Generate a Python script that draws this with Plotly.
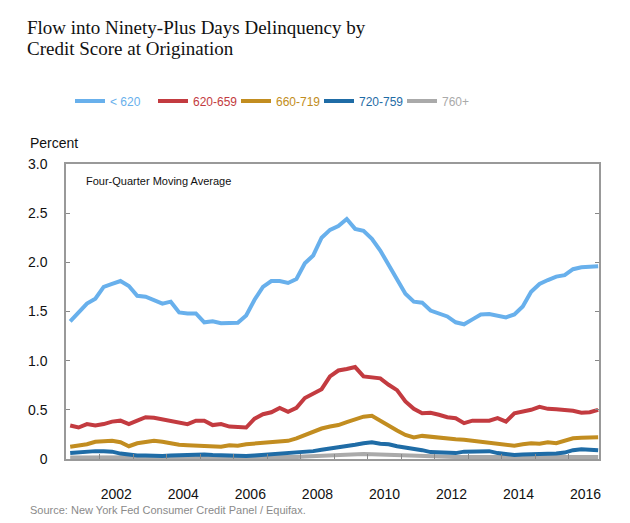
import plotly.graph_objects as go

# Quarterly observations, x in decimal years
start_year = 2001.125
n_points = 64
x_years = [start_year + 0.25 * k for k in range(n_points)]

series_names = ["< 620", "620-659", "660-719", "720-759", "760+"]
series_colors = ["#68b0ec", "#c33b40", "#c28d20", "#1f6ca6", "#aaaaaa"]

score_lt620 = [1.40, 1.49, 1.58, 1.63, 1.75, 1.78, 1.81, 1.76, 1.66, 1.65,
               1.62, 1.58, 1.60, 1.49, 1.48, 1.48, 1.39, 1.40, 1.38, 1.385,
               1.385, 1.46, 1.62, 1.75, 1.81, 1.81, 1.79, 1.83, 1.99, 2.07,
               2.25, 2.33, 2.37, 2.44, 2.34, 2.32, 2.24, 2.12, 1.97, 1.82,
               1.68, 1.60, 1.59, 1.51, 1.48, 1.45, 1.39, 1.37, 1.42, 1.47,
               1.475, 1.46, 1.44, 1.47, 1.55, 1.70, 1.78, 1.82, 1.855, 1.87,
               1.93, 1.95, 1.955, 1.96]
score_620_659 = [0.34, 0.32, 0.355, 0.34, 0.355, 0.38, 0.39, 0.355, 0.39, 0.425,
                 0.42, 0.405, 0.39, 0.38, 0.355, 0.39, 0.39, 0.345, 0.355, 0.33,
                 0.32, 0.32, 0.41, 0.455, 0.475, 0.52, 0.48, 0.52, 0.62, 0.67,
                 0.71, 0.84, 0.90, 0.915, 0.935, 0.84, 0.835, 0.82, 0.755, 0.70,
                 0.585, 0.51, 0.466, 0.47, 0.45, 0.425, 0.415, 0.365, 0.39, 0.39,
                 0.39, 0.415, 0.38, 0.465, 0.48, 0.50, 0.53, 0.51, 0.505, 0.50,
                 0.49, 0.47, 0.475, 0.50]
score_660_719 = [0.125, 0.135, 0.15, 0.175, 0.185, 0.185, 0.17, 0.13, 0.16, 0.175,
                 0.185, 0.175, 0.155, 0.145, 0.14, 0.135, 0.13, 0.125, 0.125, 0.14,
                 0.135, 0.15, 0.155, 0.165, 0.17, 0.175, 0.185, 0.21, 0.245, 0.27,
                 0.31, 0.33, 0.345, 0.375, 0.40, 0.43, 0.44, 0.39, 0.33, 0.29,
                 0.245, 0.22, 0.235, 0.225, 0.22, 0.215, 0.20, 0.195, 0.185, 0.18,
                 0.17, 0.15, 0.145, 0.135, 0.15, 0.16, 0.155, 0.17, 0.16, 0.185,
                 0.21, 0.215, 0.22, 0.22]
score_720_759 = [0.06, 0.07, 0.08, 0.08, 0.08, 0.075, 0.055, 0.04, 0.035, 0.035,
                 0.03, 0.03, 0.035, 0.04, 0.04, 0.045, 0.045, 0.04, 0.035, 0.03,
                 0.03, 0.03, 0.035, 0.04, 0.045, 0.05, 0.055, 0.06, 0.07, 0.08,
                 0.095, 0.105, 0.12, 0.135, 0.145, 0.16, 0.17, 0.155, 0.15, 0.13,
                 0.12, 0.11, 0.09, 0.07, 0.065, 0.07, 0.06, 0.075, 0.08, 0.075,
                 0.08, 0.06, 0.05, 0.04, 0.045, 0.045, 0.045, 0.05, 0.055, 0.065,
                 0.09, 0.10, 0.095, 0.09]
score_760_plus = [0.015, 0.015, 0.018, 0.018, 0.018, 0.015, 0.012, 0.01, 0.01, 0.01,
                  0.01, 0.01, 0.01, 0.012, 0.012, 0.012, 0.012, 0.01, 0.01, 0.01,
                  0.01, 0.01, 0.012, 0.012, 0.015, 0.015, 0.018, 0.02, 0.025, 0.03,
                  0.035, 0.04, 0.045, 0.048, 0.05, 0.05, 0.048, 0.045, 0.04, 0.035,
                  0.03, 0.028, 0.025, 0.022, 0.02, 0.02, 0.02, 0.02, 0.02, 0.02,
                  0.018, 0.015, 0.015, 0.012, 0.012, 0.012, 0.012, 0.015, 0.015, 0.018,
                  0.02, 0.022, 0.022, 0.02]

all_series = [score_lt620, score_620_659, score_660_719, score_720_759, score_760_plus]

tick_years = list(range(2002, 2017))
label_years = [2002, 2004, 2006, 2008, 2010, 2012, 2014, 2016]
y_ticks = [0, 0.5, 1.0, 1.5, 2.0, 2.5, 3.0]
y_ticktext = ["0", "0.5", "1.0", "1.5", "2.0", "2.5", "3.0"]

title_lines = ["Flow into Ninety-Plus Days Delinquency by", "Credit Score at Origination"]

fig = go.Figure()

# draw the light-gray series first so others sit on top, but keep legend order
draw_order = [4, 3, 2, 1, 0]
for i in draw_order:
    fig.add_trace(go.Scatter(
        x=x_years, y=all_series[i], mode="lines",
        name='<span style="color:%s">%s</span>' % (series_colors[i], series_names[i].replace("<", "&lt;")),
        line=dict(color=series_colors[i], width=4),
        legendrank=i + 1,
        hoverinfo="skip",
    ))

# invisible trace for the label axis
fig.add_trace(go.Scatter(x=[2001.0, 2016.9], y=[None, None], xaxis="x2",
                         showlegend=False, hoverinfo="skip", mode="lines"))

sans = "Liberation Sans, Arial, sans-serif"
axis_font = dict(family=sans, size=14, color="#111111")
title_font = dict(family="Liberation Serif, Georgia, serif", size=19, color="#111111")

# plot area: x 66..599, y 164..459 (px)
def py(p):
    return (459 - p) / 295

def px(p):
    return (p - 66) / 533

fig.update_layout(
    width=630, height=523,
    margin=dict(l=66, r=31, t=164, b=64),
    paper_bgcolor="white", plot_bgcolor="white",
    showlegend=True,
    legend=dict(
        orientation="h", x=px(70), xanchor="left", y=py(101), yanchor="middle",
        font=dict(family=sans, size=12),
        itemwidth=30, entrywidth=38, entrywidthmode="pixels",
        tracegroupgap=0, bgcolor="rgba(0,0,0,0)",
        traceorder="normal",
    ),
    xaxis=dict(
        range=[2001.0, 2016.9],
        tickmode="array", tickvals=tick_years, ticktext=["" for _ in tick_years],
        ticks="inside", ticklen=5, tickwidth=1, tickcolor="#888888",
        showline=True, linecolor="#999999", linewidth=1.5, mirror=True,
        showgrid=False, zeroline=False,
    ),
    xaxis2=dict(
        range=[2001.0, 2016.9], overlaying="x", anchor="y", side="bottom",
        tickmode="array", tickvals=[y + 0.5 for y in label_years],
        ticktext=[str(y) for y in label_years],
        ticks="", showline=False, showgrid=False, zeroline=False,
        tickfont=axis_font, ticklabelstandoff=25,
    ),
    yaxis=dict(
        range=[0, 3.0],
        tickmode="array", tickvals=y_ticks, ticktext=y_ticktext,
        ticks="inside", ticklen=4, tickwidth=1, tickcolor="#888888",
        showline=True, linecolor="#999999", linewidth=1.5, mirror="ticks",
        showgrid=False, zeroline=False,
        tickfont=axis_font, ticklabelstandoff=14,
    ),
    annotations=[
        dict(text=title_lines[0], xref="paper", yref="paper",
             x=px(25), y=py(27), xanchor="left", yanchor="middle",
             showarrow=False, font=title_font),
        dict(text=title_lines[1], xref="paper", yref="paper",
             x=px(25), y=py(49), xanchor="left", yanchor="middle",
             showarrow=False, font=title_font),
        dict(text="Percent", xref="paper", yref="paper",
             x=px(28), y=py(143), xanchor="left", yanchor="middle",
             showarrow=False, font=dict(family=sans, size=14, color="#111111")),
        dict(text="Four-Quarter Moving Average", xref="paper", yref="paper",
             x=px(84), y=py(181), xanchor="left", yanchor="middle",
             showarrow=False, font=dict(family=sans, size=11, color="#111111")),
        dict(text="Source: New York Fed Consumer Credit Panel / Equifax.", xref="paper", yref="paper",
             x=px(28), y=py(510), xanchor="left", yanchor="middle",
             showarrow=False, font=dict(family=sans, size=11, color="#8a8a8a")),
    ],
)

fig.write_html("out.html")
